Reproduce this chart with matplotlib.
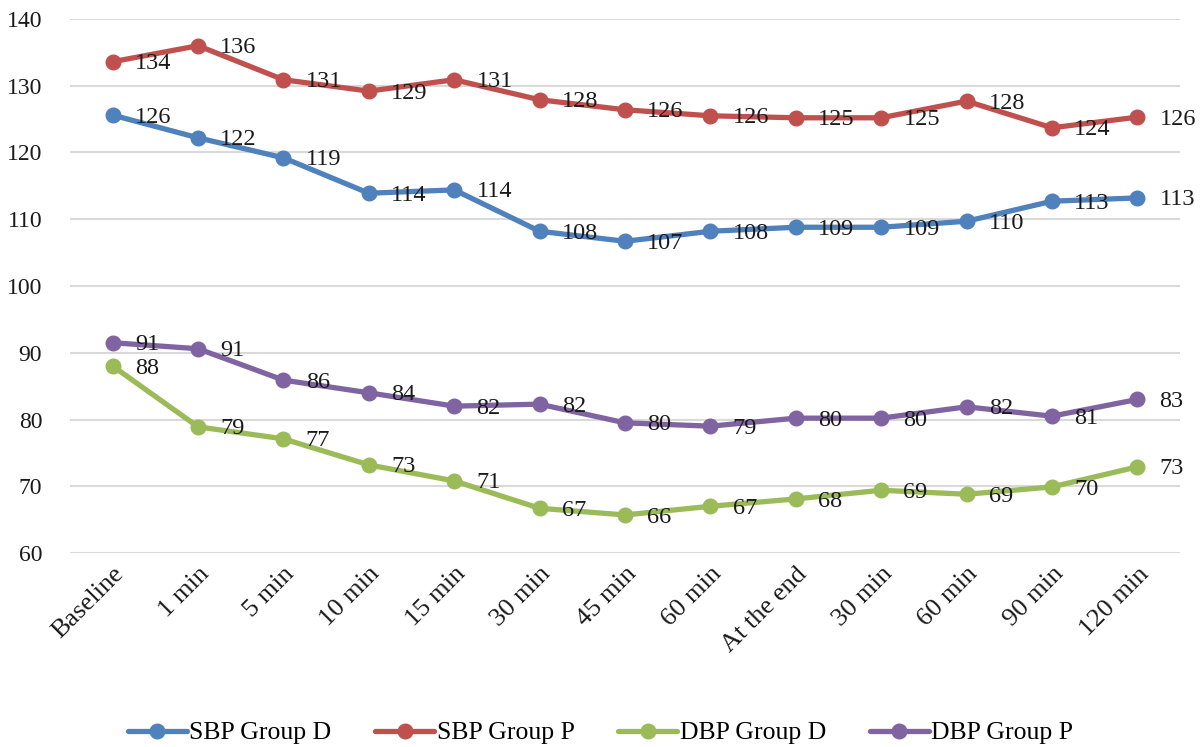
import matplotlib
matplotlib.use("Agg")
import matplotlib.pyplot as plt

categories = ["Baseline", "1 min", "5 min", "10 min", "15 min", "30 min", "45 min",
              "60 min", "At the end", "30 min", "60 min", "90 min", "120 min"]

sbp_d = [125.6, 122.2, 119.2, 113.9, 114.4, 108.2, 106.7, 108.2, 108.8, 108.8, 109.7, 112.7, 113.2]
sbp_d_lbl = [126, 122, 119, 114, 114, 108, 107, 108, 109, 109, 110, 113, 113]
sbp_p = [133.6, 136.0, 130.9, 129.2, 130.9, 127.9, 126.4, 125.5, 125.2, 125.2, 127.7, 123.7, 125.3]
sbp_p_lbl = [134, 136, 131, 129, 131, 128, 126, 126, 125, 125, 128, 124, 126]
dbp_d = [88.0, 78.9, 77.1, 73.2, 70.8, 66.7, 65.7, 67.0, 68.1, 69.4, 68.8, 69.9, 72.9]
dbp_d_lbl = [88, 79, 77, 73, 71, 67, 66, 67, 68, 69, 69, 70, 73]
dbp_p = [91.5, 90.6, 85.9, 84.0, 82.0, 82.3, 79.5, 79.0, 80.2, 80.2, 81.9, 80.5, 83.0]
dbp_p_lbl = [91, 91, 86, 84, 82, 82, 80, 79, 80, 80, 82, 81, 83]

series = [
    ("SBP Group D", sbp_d, sbp_d_lbl, "#4F81BD"),
    ("SBP Group P", sbp_p, sbp_p_lbl, "#C0504D"),
    ("DBP Group D", dbp_d, dbp_d_lbl, "#9BBB59"),
    ("DBP Group P", dbp_p, dbp_p_lbl, "#8064A2"),
]

plt.rcParams["font.family"] = ["Liberation Serif", "DejaVu Serif"]

fig = plt.figure(figsize=(12.01, 7.47), dpi=100)
ax = fig.add_axes([70 / 1201, 1 - 553 / 747, 1110 / 1201, 534 / 747])

x = list(range(len(categories)))
for name, vals, lbls, color in series:
    ax.plot(x, vals, color=color, lw=3.8, marker="o", ms=10.5, label=name,
            solid_capstyle="round")
    for xi, v, l in zip(x, vals, lbls):
        ax.annotate(str(l), (xi, v), xytext=(16, -1.5), textcoords="offset points",
                    ha="left", va="center", fontsize=17.5, color="#1a1a1a",
                    annotation_clip=False)

ax.set_xlim(-0.5, 12.5)
ax.set_ylim(60, 140)
ax.set_yticks(range(60, 141, 10))
ax.set_xticks(x)
ax.set_xticklabels(categories, rotation=45, ha="right", rotation_mode="anchor")
ax.tick_params(axis="y", length=0, labelsize=17, colors="#1a1a1a", pad=20)
ax.tick_params(axis="x", length=0, labelsize=19, colors="#1a1a1a", pad=7)
ax.grid(axis="y", color="#D9D9D9", lw=1.5)
ax.set_axisbelow(True)
for s in ax.spines.values():
    s.set_visible(False)

fig.legend(loc="center", bbox_to_anchor=(0.5, 1 - 733 / 747), ncol=4, frameon=False,
           fontsize=18.5, handlelength=2.3, columnspacing=1.7, handletextpad=0.1)

fig.savefig("out.png", dpi=100)
